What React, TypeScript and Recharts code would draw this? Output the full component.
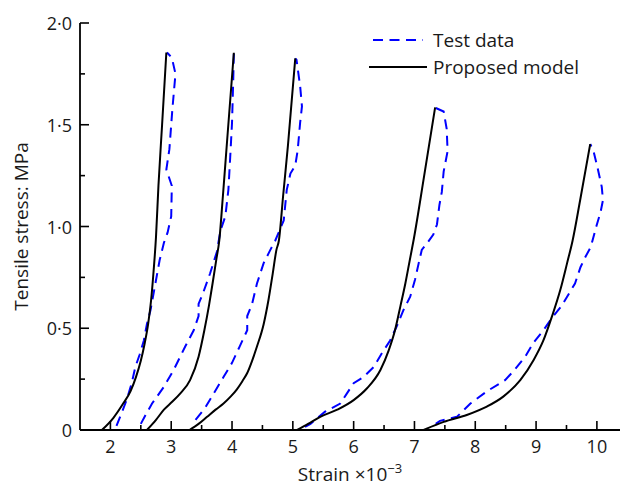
import { LineChart, Line, XAxis, YAxis, Legend, Label } from 'recharts';

// [strain ×10^-3, tensile stress MPa]
const model1: [number, number][] = [
  [1.86, 0], [2.05, 0.06], [2.21, 0.13], [2.33, 0.19], [2.42, 0.26], [2.5, 0.34], [2.56, 0.42],
  [2.62, 0.52], [2.67, 0.64], [2.71, 0.78], [2.75, 0.95], [2.79, 1.2], [2.85, 1.5], [2.92, 1.855],
];
const test1: [number, number][] = [
  [2.1, 0.02], [2.18, 0.08], [2.27, 0.15], [2.35, 0.23], [2.41, 0.31], [2.48, 0.37], [2.55, 0.44],
  [2.6, 0.52], [2.66, 0.59], [2.74, 0.72], [2.81, 0.835], [2.88, 0.92], [2.94, 0.97], [3.0, 1.05],
  [3.01, 1.2], [2.92, 1.28], [2.97, 1.38], [3.02, 1.58], [3.07, 1.75], [3.01, 1.83], [2.93, 1.855],
];
const model2: [number, number][] = [
  [2.6, 0], [2.75, 0.05], [2.88, 0.1], [3.02, 0.14], [3.15, 0.18], [3.31, 0.245], [3.45, 0.36],
  [3.545, 0.49], [3.62, 0.61], [3.68, 0.72], [3.74, 0.835], [3.79, 0.93], [3.85, 1.15], [3.92, 1.425],
  [4.03, 1.854],
];
const test2: [number, number][] = [
  [2.5, 0.03], [2.59, 0.08], [2.685, 0.13], [2.875, 0.21], [3.04, 0.295], [3.23, 0.41], [3.37, 0.49],
  [3.45, 0.56], [3.45, 0.62], [3.52, 0.67], [3.64, 0.77], [3.75, 0.875], [3.81, 0.98], [3.89, 1.05],
  [3.94, 1.18], [3.97, 1.34], [4.0, 1.51], [4.02, 1.72], [4.03, 1.85],
];
const model3: [number, number][] = [
  [3.3, 0], [3.45, 0.03], [3.59, 0.065], [3.73, 0.1], [3.86, 0.13], [3.98, 0.165], [4.08, 0.2],
  [4.17, 0.24], [4.25, 0.28], [4.33, 0.34], [4.41, 0.41], [4.52, 0.52], [4.6, 0.64], [4.67, 0.77],
  [4.73, 0.885], [4.77, 0.93], [4.84, 1.15], [4.92, 1.4], [5.04, 1.826],
];
const test3: [number, number][] = [
  [3.4, 0.05], [3.56, 0.11], [3.7, 0.18], [3.86, 0.26], [4.0, 0.33], [4.125, 0.41], [4.25, 0.49],
  [4.25, 0.56], [4.33, 0.62], [4.41, 0.72], [4.52, 0.82], [4.63, 0.885], [4.71, 0.93], [4.78, 0.98],
  [4.85, 1.03], [4.9, 1.18], [4.96, 1.26], [5.04, 1.3], [5.08, 1.375], [5.12, 1.51], [5.15, 1.59],
  [5.12, 1.69], [5.06, 1.82], [5.04, 1.826],
];
const model4: [number, number][] = [
  [5.07, 0], [5.25, 0.03], [5.45, 0.065], [5.73, 0.1], [6.0, 0.147], [6.22, 0.205], [6.44, 0.295],
  [6.575, 0.39], [6.68, 0.49], [6.77, 0.61], [6.85, 0.72], [6.92, 0.83], [6.99, 0.94], [7.16, 1.25],
  [7.34, 1.585],
];
const test4: [number, number][] = [
  [5.2, 0.015], [5.29, 0.03], [5.53, 0.09], [5.78, 0.13], [5.89, 0.18], [6.0, 0.23], [6.16, 0.26],
  [6.33, 0.31], [6.47, 0.38], [6.6, 0.44], [6.71, 0.51], [6.82, 0.59], [6.93, 0.655], [7.01, 0.74],
  [7.07, 0.82], [7.12, 0.885], [7.2, 0.915], [7.31, 0.96], [7.37, 1.01], [7.41, 1.105], [7.45, 1.17],
  [7.48, 1.27], [7.545, 1.37], [7.53, 1.48], [7.48, 1.565], [7.34, 1.584],
];
const model5: [number, number][] = [
  [7.15, 0], [7.48, 0.04], [7.86, 0.074], [8.19, 0.115], [8.46, 0.164], [8.74, 0.245], [8.96, 0.344],
  [9.12, 0.44], [9.26, 0.557], [9.4, 0.69], [9.51, 0.82], [9.6, 0.93], [9.725, 1.13], [9.89, 1.405],
];
const test5: [number, number][] = [
  [7.35, 0.03], [7.42, 0.045], [7.7, 0.065], [7.92, 0.13], [8.19, 0.19], [8.49, 0.245], [8.63, 0.29],
  [8.82, 0.36], [8.96, 0.43], [9.12, 0.49], [9.26, 0.55], [9.42, 0.61], [9.51, 0.655], [9.64, 0.72],
  [9.73, 0.8], [9.81, 0.85], [9.9, 0.9], [9.99, 1.0], [10.06, 1.07], [10.1, 1.13], [10.08, 1.195],
  [10.01, 1.29], [9.94, 1.376], [9.89, 1.405],
];

const modelCurves = [model1, model2, model3, model4, model5];
const testCurves = [test1, test2, test3, test4, test5];

const strainTicks = [2, 2.5, 3, 3.5, 4, 4.5, 5, 5.5, 6, 6.5, 7, 7.5, 8, 8.5, 9, 9.5, 10];
const stressTicks = [0, 0.25, 0.5, 0.75, 1, 1.25, 1.5, 1.75, 2];
const stressLabels: Record<string, string> = { '0': '0', '0.5': '0·5', '1': '1·0', '1.5': '1·5', '2': '2·0' };

const FONT = '"Open Sans", sans-serif';
const BLUE = '#0000ff';
const DASH = '10 6.5';

const toPoints = (c: [number, number][]) => c.map(([x, y]) => ({ x, y }));

function StrainTick({ x, y, payload }: any) {
  const v = payload.value as number;
  const major = Number.isInteger(v);
  return (
    <g>
      <line x1={x} x2={x} y1={y} y2={y - (major ? 9 : 5)} stroke="#000" strokeWidth={1.6} />
      {major && (
        <text x={x} y={y + 23} textAnchor="middle" fontSize={18} fontFamily={FONT} fill="#1a1a1a">
          {v}
        </text>
      )}
    </g>
  );
}

function StressTick({ x, y, payload }: any) {
  const v = payload.value as number;
  const label = stressLabels[String(v)];
  return (
    <g>
      <line x1={x} x2={x + (label ? 9 : 5)} y1={y} y2={y} stroke="#000" strokeWidth={1.6} />
      {label && (
        <text x={x - 8} y={y + 7} textAnchor="end" fontSize={18} fontFamily={FONT} fill="#1a1a1a">
          {label}
        </text>
      )}
    </g>
  );
}

function LegendBox() {
  return (
    <svg width={230} height={56} style={{ display: 'block' }}>
      <line x1={4} x2={54} y1={14} y2={14} stroke={BLUE} strokeWidth={2} strokeDasharray={DASH} />
      <text x={64} y={21} fontSize={19} fontFamily={FONT} fill="#1a1a1a">Test data</text>
      <line x1={0} x2={58} y1={41} y2={41} stroke="#000" strokeWidth={2} />
      <text x={64} y={48} fontSize={19} fontFamily={FONT} fill="#1a1a1a">Proposed model</text>
    </svg>
  );
}

export default function App() {
  return (
    <div style={{ position: 'absolute', left: 0, top: 0, background: '#fff' }}>
      <LineChart width={620} height={488} margin={{ top: 23, right: 0, bottom: 0, left: 0 }}>
        <XAxis
          type="number"
          dataKey="x"
          domain={[1.5, 10.38]}
          ticks={strainTicks}
          interval={0}
          tickSize={0}
          tickMargin={0}
          tickLine={false}
          axisLine={{ stroke: '#000', strokeWidth: 1.8 }}
          tick={<StrainTick />}
          height={58}
          allowDataOverflow
        >
          <Label
            content={({ viewBox }: any) => (
              <text
                x={viewBox.x + viewBox.width / 2}
                y={481}
                textAnchor="middle"
                fontSize={19}
                fontFamily={FONT}
                fill="#1a1a1a"
              >
                Strain ×10
                <tspan fontSize={13} dy={-8}>−3</tspan>
              </text>
            )}
          />
        </XAxis>
        <YAxis
          type="number"
          dataKey="y"
          domain={[0, 2]}
          ticks={stressTicks}
          interval={0}
          tickSize={0}
          tickMargin={0}
          tickLine={false}
          axisLine={{ stroke: '#000', strokeWidth: 1.8 }}
          tick={<StressTick />}
          width={80}
          allowDataOverflow
        >
          <Label
            content={({ viewBox }: any) => (
              <text
                x={28}
                y={viewBox.y + viewBox.height / 2}
                transform={`rotate(-90 28 ${viewBox.y + viewBox.height / 2})`}
                textAnchor="middle"
                fontSize={19}
                fontFamily={FONT}
                fill="#1a1a1a"
              >
                Tensile stress: MPa
              </text>
            )}
          />
        </YAxis>
        <Legend
          layout="horizontal"
          verticalAlign="middle"
          align="center"
          content={() => <LegendBox />}
          wrapperStyle={{ position: 'absolute', left: 369, top: 26, width: 230, height: 56 }}
        />
        {testCurves.map((c, i) => (
          <Line
            key={`test${i}`}
            data={toPoints(c)}
            dataKey="y"
            type="linear"
            stroke={BLUE}
            strokeWidth={2}
            strokeDasharray={DASH}
            dot={false}
            activeDot={false}
            legendType="none"
            isAnimationActive={false}
          />
        ))}
        {modelCurves.map((c, i) => (
          <Line
            key={`model${i}`}
            data={toPoints(c)}
            dataKey="y"
            type="monotone"
            stroke="#000"
            strokeWidth={2}
            dot={false}
            activeDot={false}
            legendType="none"
            isAnimationActive={false}
          />
        ))}
      </LineChart>
    </div>
  );
}
